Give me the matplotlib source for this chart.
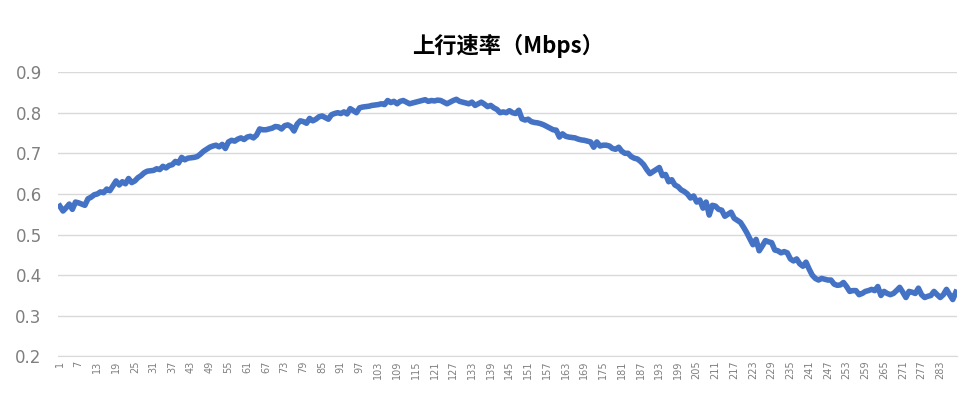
import matplotlib
matplotlib.use("Agg")
import matplotlib.pyplot as plt

TITLE = "上行速率（Mbps）"

# values, one per sample (288 samples)
UPLINK = [
    0.570, 0.558, 0.566, 0.575, 0.562, 0.580, 0.578, 0.575, 0.572, 0.588, 0.592, 0.598,
    0.600, 0.605, 0.603, 0.612, 0.608, 0.620, 0.632, 0.622, 0.630, 0.625, 0.638, 0.628,
    0.632, 0.640, 0.645, 0.652, 0.656, 0.657, 0.658, 0.662, 0.660, 0.668, 0.664, 0.670,
    0.672, 0.680, 0.676, 0.690, 0.684, 0.688, 0.689, 0.690, 0.692, 0.698, 0.705, 0.710,
    0.715, 0.718, 0.720, 0.716, 0.722, 0.712, 0.728, 0.732, 0.730, 0.735, 0.738, 0.734,
    0.740, 0.742, 0.738, 0.745, 0.760, 0.758, 0.758, 0.760, 0.762, 0.766, 0.765, 0.760,
    0.768, 0.770, 0.766, 0.755, 0.772, 0.780, 0.778, 0.774, 0.786, 0.780, 0.784, 0.790,
    0.792, 0.788, 0.784, 0.795, 0.798, 0.800, 0.798, 0.802, 0.797, 0.810, 0.805, 0.800,
    0.812, 0.814, 0.815, 0.816, 0.818, 0.819, 0.820, 0.822, 0.820, 0.830, 0.825, 0.828,
    0.822, 0.828, 0.830, 0.826, 0.822, 0.824, 0.826, 0.828, 0.830, 0.832, 0.828, 0.830,
    0.829, 0.831, 0.830, 0.826, 0.822, 0.826, 0.830, 0.833, 0.828, 0.826, 0.824, 0.822,
    0.826, 0.818, 0.822, 0.826, 0.821, 0.815, 0.818, 0.812, 0.808, 0.800, 0.802, 0.800,
    0.805, 0.800, 0.798, 0.806, 0.785, 0.782, 0.784, 0.778, 0.776, 0.775, 0.773, 0.770,
    0.766, 0.762, 0.758, 0.757, 0.740, 0.748, 0.742, 0.740, 0.739, 0.738, 0.735, 0.733,
    0.732, 0.730, 0.728, 0.715, 0.728, 0.718, 0.720, 0.720, 0.718, 0.712, 0.710, 0.715,
    0.705, 0.700, 0.700, 0.692, 0.688, 0.686, 0.680, 0.672, 0.660, 0.650, 0.655, 0.660,
    0.665, 0.645, 0.648, 0.630, 0.635, 0.622, 0.618, 0.610, 0.606, 0.600, 0.590, 0.595,
    0.580, 0.585, 0.565, 0.580, 0.548, 0.572, 0.570, 0.562, 0.560, 0.545, 0.550, 0.555,
    0.540, 0.535, 0.530, 0.518, 0.505, 0.490, 0.475, 0.488, 0.460, 0.472, 0.485, 0.482,
    0.480, 0.462, 0.460, 0.455, 0.458, 0.455, 0.440, 0.435, 0.440, 0.428, 0.422, 0.432,
    0.415, 0.400, 0.392, 0.388, 0.392, 0.390, 0.388, 0.388, 0.378, 0.375, 0.376, 0.382,
    0.372, 0.360, 0.362, 0.362, 0.352, 0.355, 0.360, 0.362, 0.365, 0.362, 0.372, 0.350,
    0.360, 0.355, 0.352, 0.355, 0.362, 0.370, 0.358, 0.345, 0.360, 0.358, 0.355, 0.368,
    0.352, 0.345, 0.348, 0.350, 0.360, 0.352, 0.345, 0.352, 0.365, 0.352, 0.340, 0.358,
]
X = list(range(1, len(UPLINK) + 1))
XTICKS = X[::6]

fig, ax = plt.subplots(figsize=(9.72, 4.05), dpi=100)
ax.plot(X, UPLINK, color="#4472c4", linewidth=4, solid_joinstyle="round")
ax.set_title(TITLE, fontfamily="Noto Sans CJK SC", fontweight="bold", fontsize=16, pad=14)
ax.set_ylim(0.2, 0.9)
ax.set_yticks([0.2, 0.3, 0.4, 0.5, 0.6, 0.7, 0.8, 0.9])
ax.set_xlim(0.5, len(UPLINK) + 0.5)
ax.set_xticks(XTICKS)
ax.set_xticklabels([str(v) for v in XTICKS], rotation=90, fontsize=7, color="#7f7f7f")
ax.tick_params(axis="y", labelsize=12, labelcolor="#7f7f7f", length=0, pad=12)
ax.tick_params(axis="x", length=0, pad=3)
ax.grid(axis="y", color="#d9d9d9", linewidth=1)
ax.set_axisbelow(True)
for s in ["top", "right", "left"]:
    ax.spines[s].set_visible(False)
ax.spines["bottom"].set_color("#d9d9d9")
fig.subplots_adjust(left=0.06, right=0.985, top=0.822, bottom=0.12)
fig.savefig("out.png", dpi=100)
